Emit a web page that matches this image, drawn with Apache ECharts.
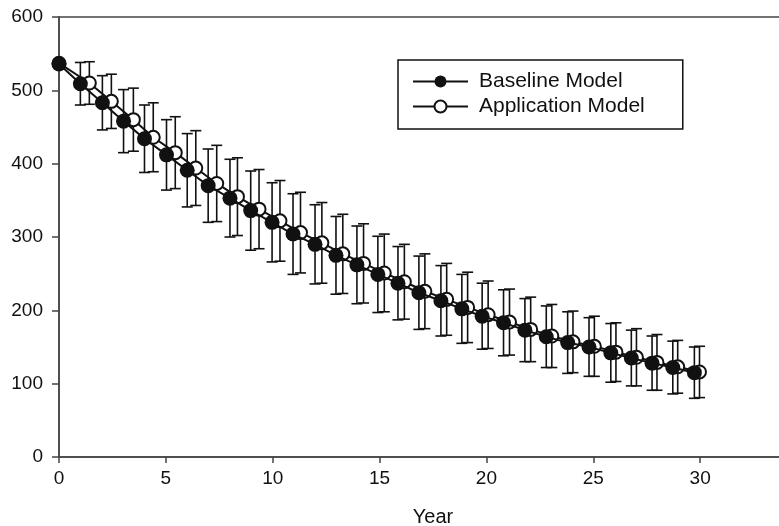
<!DOCTYPE html>
<html>
<head>
<meta charset="utf-8">
<script src="https://cdn.jsdelivr.net/npm/echarts@6/dist/echarts.min.js"></script>
<style>html,body{margin:0;padding:0;background:#fff;}#c{width:779px;height:526px;}</style>
</head>
<body>
<div id="c"></div>
<script>
// Year positions
const baselineX = [0, 1.0, 2.03, 3.02, 4.0, 5.03, 6.0, 6.98, 8.0, 8.97, 9.97, 10.95, 11.98, 12.96, 13.94, 14.92, 15.86, 16.84, 17.87, 18.85, 19.8, 20.8, 21.8, 22.8, 23.8, 24.8, 25.82, 26.78, 27.75, 28.72, 29.73];
const applicationX = [0, 1.42, 2.45, 3.48, 4.41, 5.44, 6.4, 7.38, 8.35, 9.36, 10.34, 11.3, 12.3, 13.28, 14.25, 15.22, 16.16, 17.12, 18.14, 19.12, 20.08, 21.08, 22.07, 23.06, 24.05, 25.05, 26.06, 27.02, 27.98, 28.95, 29.97];
const baselineValues = [536, 509, 483, 458, 434, 412, 391, 370, 353, 336, 320, 304, 290, 275, 262, 249, 237, 224, 213, 202, 192, 183, 173, 164, 156, 150, 142, 135, 128, 122, 115];
const applicationValues = [537, 510, 485, 460, 436, 415, 394, 373, 355, 338, 322, 306, 292, 277, 264, 251, 239, 226, 215, 204, 194, 184, 174, 165, 157, 151, 143, 136, 129, 123, 116];
const baselineErr = [0, 29, 37, 43, 46, 48, 50, 50, 53, 54, 54, 55, 54, 53, 53, 52, 50, 50, 48, 47, 45, 45, 43, 42, 42, 40, 40, 38, 37, 36, 35];
const applicationErr = [0, 29, 37, 43, 47, 49, 51, 52, 53, 54, 55, 55, 55, 54, 54, 53, 51, 51, 49, 48, 46, 45, 44, 43, 42, 41, 40, 39, 38, 36, 35];
const seriesNames = ['Baseline Model', 'Application Model'];
const xAxisName = 'Year';

const FONT = 'Liberation Sans, Arial, sans-serif';
const INK = '#111';

function pts(xs, ys) { return xs.map((x, i) => [x, ys[i]]); }
function bars(xs, ys, es) {
  return xs.map((x, i) => [x, ys[i] - es[i], ys[i] + es[i]]).filter((d, i) => es[i] > 0);
}
function renderErr(params, api) {
  const x = api.value(0), lo = api.value(1), hi = api.value(2);
  const a = api.coord([x, hi]), b = api.coord([x, lo]);
  const w = 5.5;
  const st = { stroke: INK, lineWidth: 1.6 };
  return {
    type: 'group',
    children: [
      { type: 'line', shape: { x1: a[0], y1: a[1], x2: b[0], y2: b[1] }, style: st },
      { type: 'line', shape: { x1: a[0] - w, y1: a[1], x2: a[0] + w, y2: a[1] }, style: st },
      { type: 'line', shape: { x1: b[0] - w, y1: b[1], x2: b[0] + w, y2: b[1] }, style: st }
    ]
  };
}

const chart = echarts.init(document.getElementById('c'), null, { renderer: 'canvas' });
chart.setOption({
  animation: false,
  backgroundColor: '#fff',
  textStyle: { fontFamily: FONT },
  grid: { left: 59, right: -28, top: 17, bottom: 69, containLabel: false, outerBoundsMode: 'none', show: true, borderColor: '#444', borderWidth: 1.5, backgroundColor: 'transparent' },
  legend: {
    data: seriesNames,
    orient: 'vertical',
    left: 398, top: 60,
    padding: [11, 38, 12, 14],
    itemWidth: 55, itemHeight: 15, itemGap: 4,
    borderColor: '#111', borderWidth: 1.5,
    textStyle: { fontFamily: FONT, fontSize: 21, color: '#111', padding: [0, 0, 0, 6], lineHeight: 21 },
    selectedMode: false
  },
  xAxis: {
    type: 'value', min: 0, max: 35, interval: 5,
    name: xAxisName, nameLocation: 'middle', nameGap: 50,
    nameTextStyle: { fontFamily: FONT, fontSize: 20, color: '#111' },
    axisLine: { show: true, onZero: false, lineStyle: { color: '#444', width: 1.5 } },
    axisTick: { show: true, inside: false, length: 6, lineStyle: { color: '#444', width: 1.5 } },
    axisLabel: { fontFamily: FONT, fontSize: 19, color: '#111', margin: 12 },
    splitLine: { show: false }
  },
  yAxis: {
    type: 'value', min: 0, max: 600, interval: 100,
    axisLine: { show: true, lineStyle: { color: '#444', width: 1.5 } },
    axisTick: { show: true, inside: false, length: 7, lineStyle: { color: '#444', width: 1.5 } },
    axisLabel: { fontFamily: FONT, fontSize: 19, color: '#111', margin: 16 },
    splitLine: { show: false }
  },
  series: [
    {
      type: 'custom', name: 'appErr', renderItem: renderErr, z: 1,
      data: bars(applicationX, applicationValues, applicationErr), silent: true
    },
    {
      type: 'custom', name: 'baseErr', renderItem: renderErr, z: 1,
      data: bars(baselineX, baselineValues, baselineErr), silent: true
    },
    {
      type: 'line', name: seriesNames[1], z: 2,
      data: pts(applicationX, applicationValues),
      symbol: 'circle', symbolSize: 13,
      lineStyle: { color: INK, width: 2 },
      itemStyle: { color: '#fff', borderColor: INK, borderWidth: 2 },
      emphasis: { disabled: true }
    },
    {
      type: 'line', name: seriesNames[0], z: 3,
      data: pts(baselineX, baselineValues),
      symbol: 'circle', symbolSize: 15,
      lineStyle: { color: INK, width: 2 },
      itemStyle: { color: INK, borderColor: INK, borderWidth: 0 },
      emphasis: { disabled: true }
    }
  ]
});
</script>
</body>
</html>
